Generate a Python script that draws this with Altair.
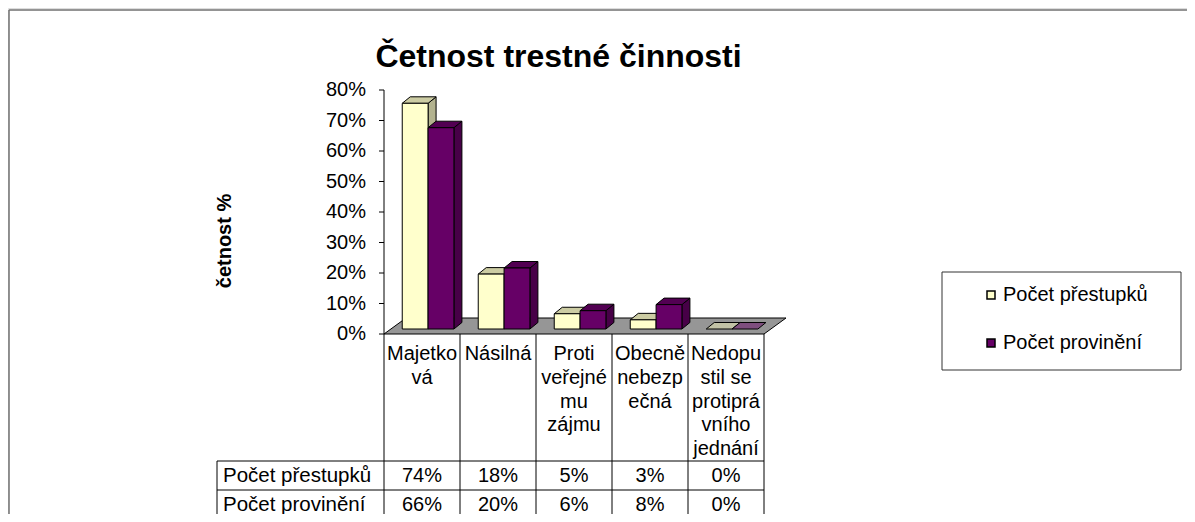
import altair as alt
import pandas as pd

# ---------------- data ----------------
categories = ["Majetková", "Násilná", "Proti veřejnému zájmu",
              "Obecně nebezpečná", "Nedopustil se protiprávního jednání"]
category_labels = ["Majetko\nvá", "Násilná", "Proti\nveřejné\nmu\nzájmu",
                   "Obecně\nnebezp\nečná", "Nedopu\nstil se\nprotiprá\nvního\njednání"]
series_names = ["Počet přestupků", "Počet provinění"]
prestupky = [74, 18, 5, 3, 0]
provineni = [66, 20, 6, 8, 0]
y_ticks = [0, 10, 20, 30, 40, 50, 60, 70, 80]
title_text = "Četnost trestné činnosti"
y_title = "četnost %"

# ---------------- layout ----------------
FONT = "Liberation Sans"
W, H = 1179, 506
PX_PER_CAT = 76.0
PX_PER_PCT = 3.05
AXIS_X_PX = 376.0     # plot left -> category 0
ZERO_Y_PX = 326.0     # plot top  -> 0 %
x_dom = [-AXIS_X_PX / PX_PER_CAT, (W - AXIS_X_PX) / PX_PER_CAT]
y_dom = [-(H - ZERO_Y_PX) / PX_PER_PCT, ZERO_Y_PX / PX_PER_PCT]
XS = alt.Scale(domain=x_dom, nice=False, zero=False)
YS = alt.Scale(domain=y_dom, nice=False, zero=False)

BAR_OFF, BAR_W = 0.24, 0.34
BASE = 5 / PX_PER_PCT
DX, DY = 8 / PX_PER_CAT, 6.5 / PX_PER_PCT
FLOOR_DX, FLOOR_DY = 22 / PX_PER_CAT, 16 / PX_PER_PCT
TICK_LEN = 5 / PX_PER_CAT
LABEL_GAP = 18 / PX_PER_CAT

front_range = ["#FFFFCC", "#660066"]
side_range = ["#B3B38F", "#470047"]
top_range = ["#CCCCA3", "#520052", "#C2C2A6", "#7E4E7E"]

n = len(categories)
series_vals = [prestupky, provineni]

front_rows, side_rows, top_rows = [], [], []
for k, (s, vals) in enumerate(zip(series_names, series_vals)):
    for i, v in enumerate(vals):
        xl = i + BAR_OFF + k * BAR_W
        xr = xl + BAR_W
        top = BASE + v
        bid = f"{k}-{i}"
        front_rows.append(dict(series=s, value=v, xl=xl, xr=xr, base=BASE, top=top))
        side_rows.append(dict(series=s, value=v, bid=bid, x=xr, y=top, y2=BASE))
        side_rows.append(dict(series=s, value=v, bid=bid, x=xr + DX, y=top + DY, y2=BASE + DY))
        key = s if v > 0 else s + " 0"
        top_rows.append(dict(series=s, key=key, value=v, bid=bid, y=top, x=xl, x2=xr))
        top_rows.append(dict(series=s, key=key, value=v, bid=bid, y=top + DY, x=xl + DX, x2=xr + DX))

front_df = pd.DataFrame(front_rows)
side_df = pd.DataFrame(side_rows)
top_df = pd.DataFrame(top_rows)
floor_df = pd.DataFrame(dict(y=[0, FLOOR_DY], x=[0, FLOOR_DX], x2=[n, n + FLOOR_DX]))

# y axis (ticks + labels) from the tick list
tick_df = pd.DataFrame(dict(y=y_ticks, x=[0] * len(y_ticks), x2=[-TICK_LEN] * len(y_ticks),
                            xl=[-LABEL_GAP] * len(y_ticks),
                            text=[f"{t}%" for t in y_ticks]))

# table geometry (in axis units)
HEAD_Y = -20 / PX_PER_PCT
LINE = 23.75 / PX_PER_PCT
ROW1_TOP = -127 / PX_PER_PCT
ROW_H = 29 / PX_PER_PCT
LEFT_COL = -167 / PX_PER_CAT
LABEL_X = -161 / PX_PER_CAT

head_rows = []
for i, lab in enumerate(category_labels):
    for j, line in enumerate(lab.split("\n")):
        head_rows.append(dict(x=i + 0.5, y=HEAD_Y - j * LINE, text=line))
head_df = pd.DataFrame(head_rows)

cell_rows = []
for k, (s, vals) in enumerate(zip(series_names, series_vals)):
    yc = ROW1_TOP - (k + 0.5) * ROW_H
    cell_rows.append(dict(x=LABEL_X, y=yc, text=s, align="left"))
    for i, v in enumerate(vals):
        cell_rows.append(dict(x=i + 0.5, y=yc, text=f"{v}%", align="center"))
cell_df = pd.DataFrame(cell_rows)

grid_rows = [dict(x=0, x2=0, y=y_ticks[-1], y2=y_dom[0])]
for i in range(1, n + 1):
    grid_rows.append(dict(x=i, x2=i, y=0, y2=y_dom[0]))
grid_rows.append(dict(x=LEFT_COL, x2=LEFT_COL, y=ROW1_TOP, y2=y_dom[0]))
for k in range(2):
    yy = ROW1_TOP - k * ROW_H
    grid_rows.append(dict(x=LEFT_COL, x2=n, y=yy, y2=yy))
grid_df = pd.DataFrame(grid_rows)

one = pd.DataFrame({"a": [0]})

X = lambda f: alt.X(f, scale=XS, axis=None)
Y = lambda f: alt.Y(f, scale=YS, axis=None)

floor = alt.Chart(floor_df).mark_area(orient="horizontal", fill="#969696",
                                      stroke="black", strokeWidth=1).encode(
    y=Y("y:Q"), x=alt.X("x:Q", scale=XS, axis=None, stack=None), x2="x2:Q")

sides = alt.Chart(side_df).transform_filter("datum.value > 0").mark_area(
    orient="vertical", stroke="black", strokeWidth=1).encode(
    x=X("x:Q"),
    y=alt.Y("y:Q", scale=YS, axis=None, stack=None),
    y2="y2:Q",
    detail="bid:N",
    color=alt.Color("series:N", scale=alt.Scale(domain=series_names, range=side_range), legend=None),
)

tops = alt.Chart(top_df).mark_area(orient="horizontal", stroke="black", strokeWidth=1).encode(
    y=Y("y:Q"),
    x=alt.X("x:Q", scale=XS, axis=None, stack=None),
    x2="x2:Q",
    detail="bid:N",
    color=alt.Color("key:N", scale=alt.Scale(
        domain=series_names + [s + " 0" for s in series_names], range=top_range), legend=None),
)

fronts = alt.Chart(front_df).transform_filter("datum.value > 0").mark_rect(
    stroke="black", strokeWidth=1).encode(
    x=X("xl:Q"), x2="xr:Q", y=Y("base:Q"), y2="top:Q",
    color=alt.Color("series:N", scale=alt.Scale(domain=series_names, range=front_range),
                    legend=alt.Legend(title=None, orient="none", legendX=973, legendY=277,
                                      symbolType="square", symbolSize=64,
                                      symbolStrokeColor="black", symbolStrokeWidth=1.5,
                                      labelFontSize=20, labelFont=FONT, labelColor="black",
                                      rowPadding=28, labelOffset=2, padding=0)),
)

grid = alt.Chart(grid_df).mark_rule(color="black", strokeWidth=1).encode(
    x=X("x:Q"), x2="x2:Q", y=Y("y:Q"), y2="y2:Q")

ticks = alt.Chart(tick_df).mark_rule(color="black", strokeWidth=1).encode(
    x=X("x:Q"), x2="x2:Q", y=Y("y:Q"))

tick_labels = alt.Chart(tick_df).mark_text(fontSize=20, font=FONT, color="black",
                                           align="right", baseline="middle").encode(
    x=X("xl:Q"), y=Y("y:Q"), text="text:N")

head_text = alt.Chart(head_df).mark_text(fontSize=20, font=FONT, color="black",
                                         align="center", baseline="middle").encode(
    x=X("x:Q"), y=Y("y:Q"), text="text:N")

cell_center = alt.Chart(cell_df).transform_filter("datum.align == 'center'").mark_text(
    fontSize=20, font=FONT, color="black", align="center", baseline="middle").encode(
    x=X("x:Q"), y=Y("y:Q"), text="text:N")

cell_left = alt.Chart(cell_df).transform_filter("datum.align == 'left'").mark_text(
    fontSize=20.5, font=FONT, color="black", align="left", baseline="middle").encode(
    x=X("x:Q"), y=Y("y:Q"), text="text:N")

legend_box = alt.Chart(one).mark_rect(fillOpacity=0, stroke="#333333", strokeWidth=1).encode(
    x=alt.value(934), x2=alt.value(1173), y=alt.value(264), y2=alt.value(362))

frame_top = alt.Chart(one).mark_rule(color="#707070", strokeWidth=1.5).encode(
    x=alt.value(1), x2=alt.value(W), y=alt.value(2))
frame_left = alt.Chart(one).mark_rule(color="#707070", strokeWidth=1.5).encode(
    x=alt.value(1), y=alt.value(2), y2=alt.value(H))

title = alt.Chart(one).mark_text(text=title_text, fontSize=32, fontWeight="bold", font=FONT,
                                 color="black", align="center", baseline="alphabetic").encode(
    x=alt.value(550.5), y=alt.value(58.7))

ytitle = alt.Chart(one).mark_text(text=y_title, fontSize=20, fontWeight="bold", font=FONT,
                                  color="black", align="center", baseline="middle",
                                  angle=270).encode(
    x=alt.value(217), y=alt.value(233))

chart = alt.layer(
    floor, sides, tops, fronts, grid, ticks, tick_labels, head_text, cell_center, cell_left,
    legend_box, frame_top, frame_left, title, ytitle
).resolve_scale(color="independent").properties(
    width=W, height=H, padding=0, autosize=alt.AutoSizeParams(type="none")
).configure_view(strokeWidth=0).configure(font=FONT)

chart.save("out.html", embed_options={"renderer": "svg", "actions": False})
